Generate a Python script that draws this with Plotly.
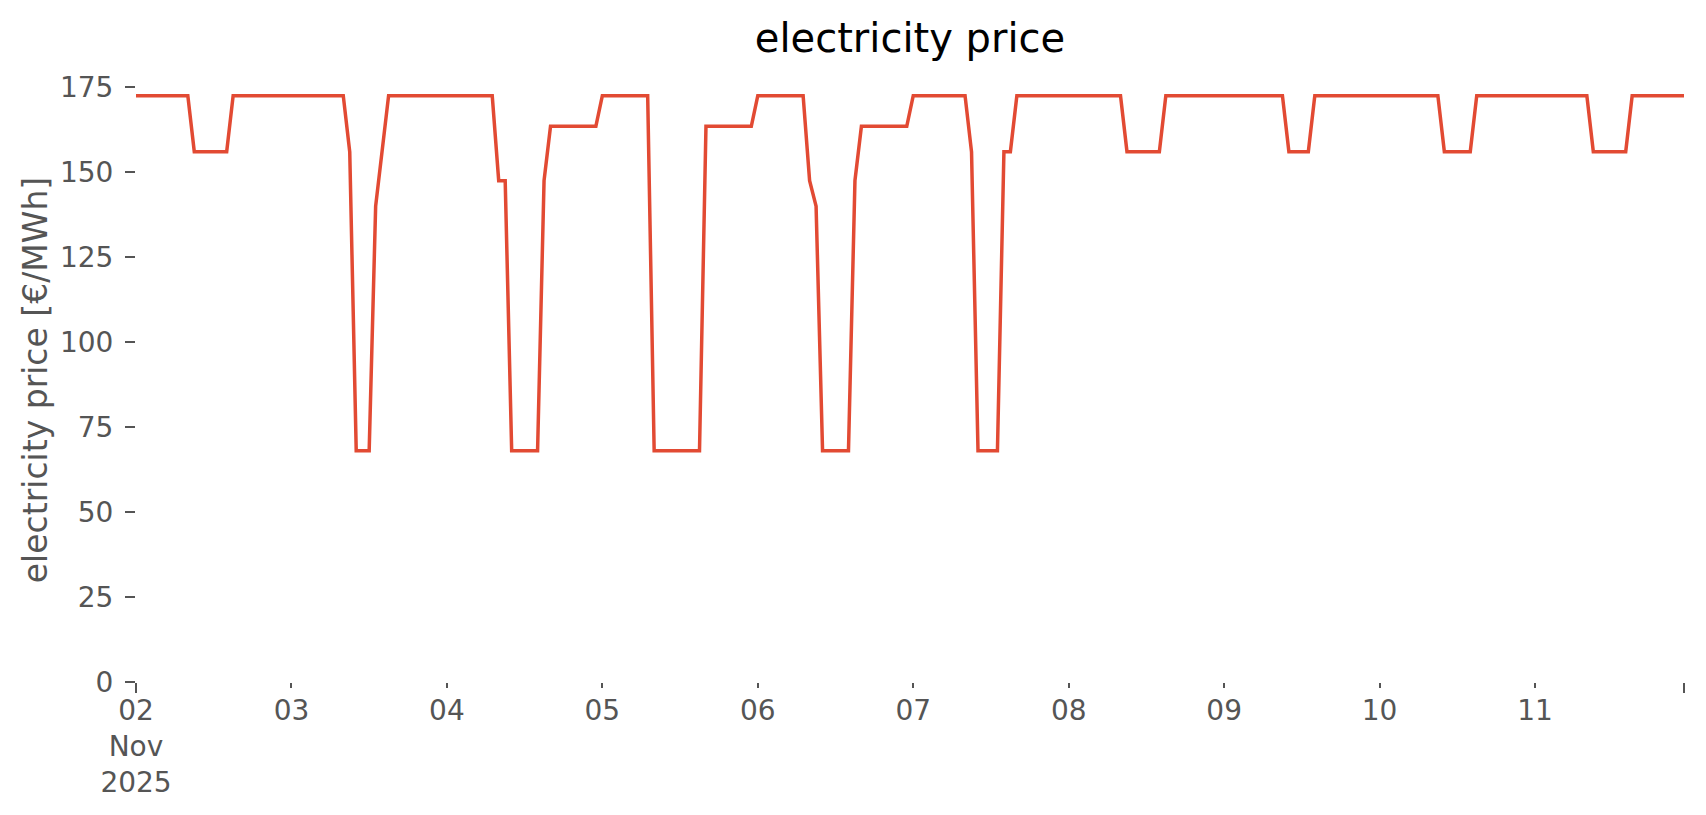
import pandas as pd
import plotly.graph_objects as go

# hourly electricity price per day [€/MWh]
nov02 = [172.5, 172.5, 172.5, 172.5, 172.5, 172.5, 172.5, 172.5, 172.5, 156, 156, 156,
         156, 156, 156, 172.5, 172.5, 172.5, 172.5, 172.5, 172.5, 172.5, 172.5, 172.5]
nov03 = [172.5, 172.5, 172.5, 172.5, 172.5, 172.5, 172.5, 172.5, 172.5, 156, 68, 68,
         68, 140, 156, 172.5, 172.5, 172.5, 172.5, 172.5, 172.5, 172.5, 172.5, 172.5]
nov04 = [172.5, 172.5, 172.5, 172.5, 172.5, 172.5, 172.5, 172.5, 147.5, 147.5, 68, 68,
         68, 68, 68, 147.5, 163.5, 163.5, 163.5, 163.5, 163.5, 163.5, 163.5, 163.5]
nov05 = [172.5, 172.5, 172.5, 172.5, 172.5, 172.5, 172.5, 172.5, 68, 68, 68, 68,
         68, 68, 68, 68, 163.5, 163.5, 163.5, 163.5, 163.5, 163.5, 163.5, 163.5]
nov06 = [172.5, 172.5, 172.5, 172.5, 172.5, 172.5, 172.5, 172.5, 147.5, 140, 68, 68,
         68, 68, 68, 147.5, 163.5, 163.5, 163.5, 163.5, 163.5, 163.5, 163.5, 163.5]
nov07 = [172.5, 172.5, 172.5, 172.5, 172.5, 172.5, 172.5, 172.5, 172.5, 156, 68, 68,
         68, 68, 156, 156, 172.5, 172.5, 172.5, 172.5, 172.5, 172.5, 172.5, 172.5]
nov08 = [172.5, 172.5, 172.5, 172.5, 172.5, 172.5, 172.5, 172.5, 172.5, 156, 156, 156,
         156, 156, 156, 172.5, 172.5, 172.5, 172.5, 172.5, 172.5, 172.5, 172.5, 172.5]
nov09 = [172.5, 172.5, 172.5, 172.5, 172.5, 172.5, 172.5, 172.5, 172.5, 172.5, 156, 156,
         156, 156, 172.5, 172.5, 172.5, 172.5, 172.5, 172.5, 172.5, 172.5, 172.5, 172.5]
nov10 = [172.5, 172.5, 172.5, 172.5, 172.5, 172.5, 172.5, 172.5, 172.5, 172.5, 156, 156,
         156, 156, 156, 172.5, 172.5, 172.5, 172.5, 172.5, 172.5, 172.5, 172.5, 172.5]
nov11 = [172.5, 172.5, 172.5, 172.5, 172.5, 172.5, 172.5, 172.5, 172.5, 156, 156, 156,
         156, 156, 156, 172.5, 172.5, 172.5, 172.5, 172.5, 172.5, 172.5, 172.5, 172.5]

day_labels = ["02<br>Nov<br>2025", "03", "04", "05", "06", "07", "08", "09", "10", "11"]
y_ticks = [0, 25, 50, 75, 100, 125, 150, 175]

price = nov02 + nov03 + nov04 + nov05 + nov06 + nov07 + nov08 + nov09 + nov10 + nov11
times = pd.date_range("2025-11-02", periods=len(price), freq="h")
days = pd.date_range("2025-11-02", periods=len(day_labels), freq="D")

grey = "#555555"
font = "DejaVu Sans"

fig = go.Figure(
    data=[
        go.Scatter(
            x=times,
            y=price,
            mode="lines",
            line=dict(color="#E24A33", width=3.5),
        ),
    ],
    layout=go.Layout(
        width=1706,
        height=815,
        paper_bgcolor="white",
        plot_bgcolor="white",
        showlegend=False,
        margin=dict(l=136, r=22, t=78, b=133, autoexpand=False),
        title=dict(
            text="electricity price",
            font=dict(family=font, size=40, color="black"),
            x=0.5, xref="paper", xanchor="center",
            y=1 - 38 / 815, yref="container", yanchor="middle",
        ),
        xaxis=dict(
            range=[times[0], times[-1]],
            tickmode="array",
            tickvals=list(days) + [times[-1]],
            ticktext=day_labels + [""],
            ticks="outside",
            ticklen=5,
            tickwidth=1.5,
            tickcolor=grey,
            ticklabelstandoff=-2,
            tickfont=dict(family=font, size=28, color=grey),
            showgrid=False,
            zeroline=False,
            showline=False,
            automargin=False,
            minor=dict(
                tickmode="array",
                tickvals=[times[0], times[-1]],
                ticks="outside",
                ticklen=10,
                tickwidth=1.5,
                tickcolor=grey,
                showgrid=False,
            ),
        ),
        yaxis=dict(
            range=[0, 177.7],
            tickmode="array",
            tickvals=y_ticks,
            ticks="outside",
            ticklen=10,
            tickwidth=1.5,
            tickcolor=grey,
            ticklabelstandoff=6,
            tickfont=dict(family=font, size=28, color=grey),
            title=dict(
                text="electricity price [€/MWh]",
                font=dict(family=font, size=33, color=grey),
                standoff=2,
            ),
            showgrid=False,
            zeroline=False,
            showline=False,
            automargin=False,
        ),
    ),
)

# page has a default 8px body margin; drop it so the figure sits at the corner
fig.write_html(
    "out.html",
    config={"displayModeBar": False},
    post_script="document.body.style.margin = '0';",
)
